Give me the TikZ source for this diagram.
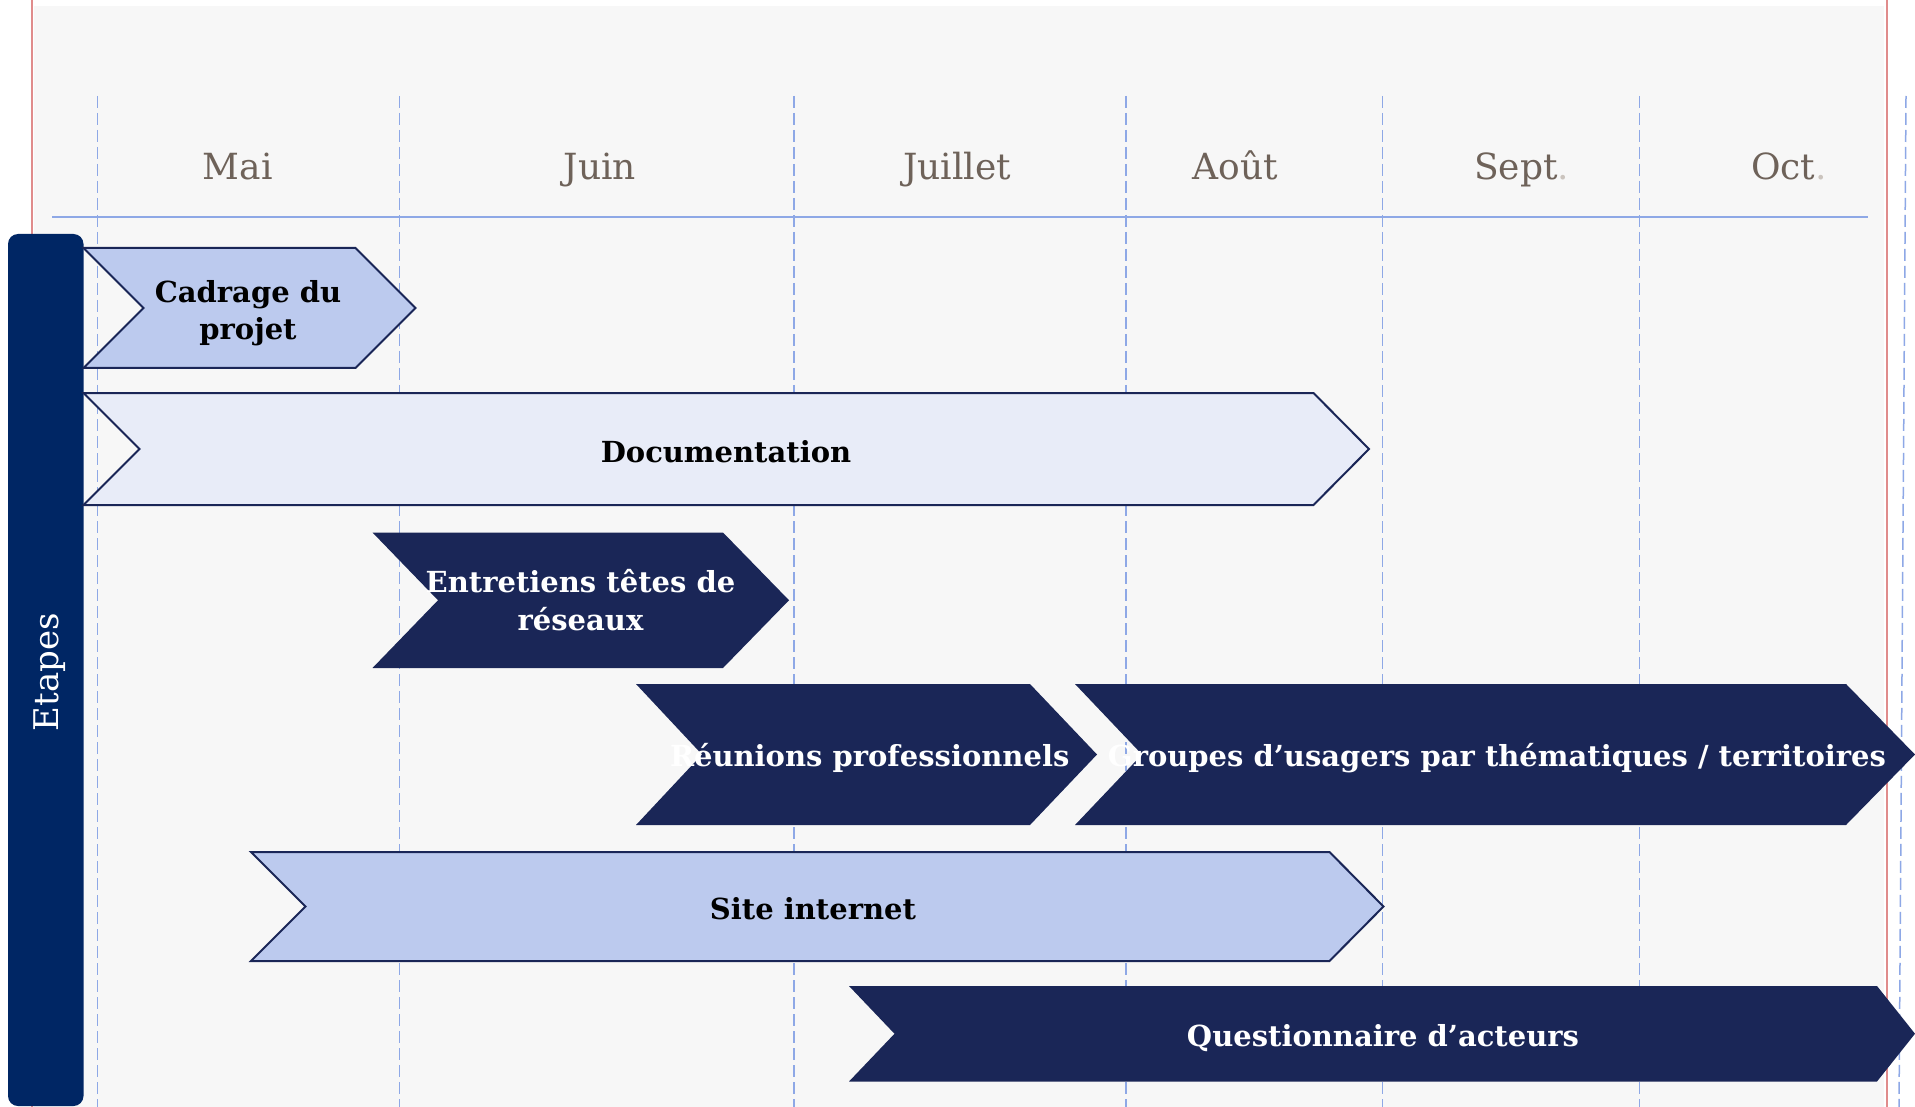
\documentclass[tikz,border=0pt]{standalone}
\usepackage{fontspec}
\setmainfont{DejaVu Serif}
\definecolor{panel}{HTML}{F7F7F7}
\definecolor{gridblue}{HTML}{8EA8E6}
\definecolor{navy}{HTML}{1A2657}
\definecolor{barnavy}{HTML}{002664}
\definecolor{lightchev}{HTML}{BCCAEE}
\definecolor{palechev}{HTML}{E8ECF8}
\definecolor{monthtxt}{HTML}{6E6259}
\definecolor{dotgray}{HTML}{CBC4BE}
\definecolor{redline}{HTML}{E08C8C}
\tikzset{
  gridline/.style={draw=gridblue, line width=1.5pt, dash pattern=on 12pt off 5pt},
  axisline/.style={draw=gridblue, line width=2pt},
  edgeline/.style={draw=redline, line width=1.6pt},
  chevlight/.style={fill=lightchev, draw=navy, line width=2pt, line join=miter},
  chevpale/.style={fill=palechev, draw=navy, line width=2pt, line join=miter},
  chevdark/.style={fill=navy},
  month/.style={text=monthtxt, inner sep=0pt, anchor=base, font=\fontsize{36}{40}\selectfont},
  lbl/.style={inner sep=0pt, font=\bfseries\fontsize{29}{37.5}\selectfont, align=center},
  lbldark/.style={lbl, text=white},
  lbllight/.style={lbl, text=black},
}
% chevron: style, left, top, bottom, notch x, shoulder x, tip x
\newcommand{\chevron}[7]{%
  \path[#1] (#2,#3) -- (#6,#3) -- (#7,{(#3+#4)/2}) -- (#6,#4) -- (#2,#4) -- (#5,{(#3+#4)/2}) -- cycle;}
\begin{document}
\begin{tikzpicture}[x=1pt,y=-1pt]
\useasboundingbox (0,0) rectangle (1915,1107);
\fill[white] (0,0) rectangle (1915,1107);
\fill[panel] (33.5,6) rectangle (1884,1107);
\draw[edgeline] (32,0) -- (32,1107);
\draw[edgeline] (1887,0) -- (1887,1107);
% month grid
\foreach \gx in {97.7,399.5,794,1126,1382.5,1639.5}
  \draw[gridline] (\gx,96) -- (\gx,1107);
\draw[gridline] (1906,96) -- (1899,1107);
\draw[axisline] (52,217) -- (1868,217);
% month labels
\node[month] (mai) at (237.7,180) {Mai};
\node[month] (juin) at (600,180) {Juin};
\node[month] (juillet) at (957,180) {Juillet};
\node[month] (aout) at (1235,180) {Août};
\node[month] (sept) at (1521.5,180) {Sept\textcolor{dotgray}{.}};
\node[month] (oct) at (1789,180) {Oct\textcolor{dotgray}{.}};
% Etapes bar
\fill[barnavy, rounded corners=10pt] (8,234) rectangle (83.5,1106);
\node[rotate=90, anchor=base, inner sep=0pt, text=white, font=\fontsize{34}{40}\selectfont] (etapes) at (58.3,672) {Etapes};
% chevrons
\chevron{chevlight}{83.5}{248}{368}{143.5}{355.5}{415.5}
\chevron{chevpale}{83.5}{393}{505}{139.5}{1313.5}{1369}
\chevron{chevdark}{372.5}{532.5}{668}{438}{723}{789}
\chevron{chevdark}{636}{684}{825}{702}{1030}{1097}
\chevron{chevdark}{1075}{684}{825}{1142}{1846}{1915}
\chevron{chevlight}{251}{852}{961}{305.5}{1329.5}{1383.5}
\chevron{chevdark}{849}{986}{1081.5}{894.5}{1877}{1915}
% labels
\node[lbllight] (cadrage) at (248,313) {Cadrage du\\projet};
\node[lbllight, anchor=base] (documentation) at (726,462.3) {Documentation};
\node[lbldark] (entretiens) at (580.5,600) {Entretiens têtes de\\réseaux};
\node[lbldark, anchor=base] (reunions) at (869.7,766.7) {Réunions professionnels};
\node[lbldark, anchor=base] (groupes) at (1497,766.7) {Groupes d’usagers par thématiques / territoires};
\node[lbllight, anchor=base] (site) at (813,919.5) {Site internet};
\node[lbldark, anchor=base] (questionnaire) at (1383,1046) {Questionnaire d’acteurs};
\end{tikzpicture}
\end{document}
